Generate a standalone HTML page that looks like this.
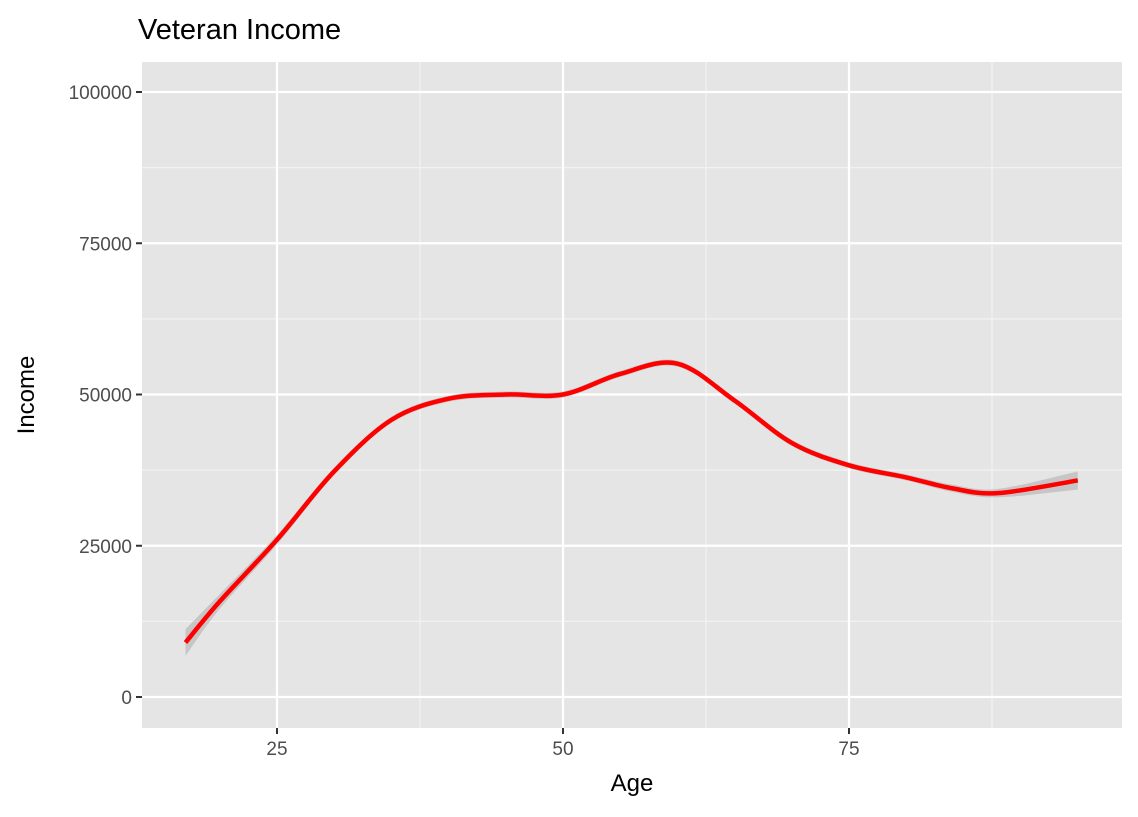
<!DOCTYPE html>
<html><head><meta charset="utf-8"><style>
body{margin:0;background:#fff}
svg{font-family:"Liberation Sans",Arial,sans-serif}
</style></head><body>
<svg id="chart" width="1138" height="812"></svg>
<script>
const ages=[17,20,25,30,35,40,45,50,55,60,65,70,75,80,84,88,95];
const incomes=[9000,15800,26000,37300,45800,49300,50000,50000,53400,55100,49000,42000,38300,36300,34500,33700,35800];
const seWidth=[2200,1200,800,600,500,500,500,500,500,500,500,500,500,500,600,700,1500];
const xTicks=[25,50,75];
const yTicks=[0,25000,50000,75000,100000];
const yTickLabels=["0","25000","50000","75000","100000"];
const L=142,R=1122,T=62,B=728;
const xScale=a=>277+(a-25)*(563-277)/25;
const yScale=v=>697-v*(697-92)/100000;
const NS="http://www.w3.org/2000/svg";
const svg=document.getElementById('chart');
function mk(tag,attrs,name,parent){const e=document.createElementNS(NS,tag);for(const k in attrs)e.setAttribute(k,attrs[k]);


(parent||svg).appendChild(e);return e;}
mk('rect',{x:L,y:T,width:R-L,height:B-T,fill:'#e5e5e5'},'plot-panel');
const xMin=[12.5,37.5,62.5,87.5];
xMin.forEach(v=>{const x=xScale(v);if(x>L&&x<R)mk('line',{x1:x,x2:x,y1:T,y2:B,stroke:'#f2f2f2','stroke-width':1.2},'minor-gridline-x');});
[12500,37500,62500,87500].forEach(v=>{const y=yScale(v);mk('line',{x1:L,x2:R,y1:y,y2:y,stroke:'#f2f2f2','stroke-width':1.2},'minor-gridline-y');});
xTicks.forEach(v=>{const x=xScale(v);mk('line',{x1:x,x2:x,y1:T,y2:B,stroke:'#fff','stroke-width':2.2},'gridline-x');
mk('line',{x1:x,x2:x,y1:B,y2:B+6,stroke:'#333','stroke-width':2},'x-tick');
const t=mk('text',{x:x,y:B+27,'text-anchor':'middle','font-size':19,fill:'#4d4d4d'},'x-tick-label');t.textContent=v;});
yTicks.forEach((v,i)=>{const y=yScale(v);mk('line',{x1:L,x2:R,y1:y,y2:y,stroke:'#fff','stroke-width':2.2},'gridline-y');
mk('line',{x1:L-6,x2:L,y1:y,y2:y,stroke:'#333','stroke-width':2},'y-tick');
const t=mk('text',{x:L-10,y:y+7,'text-anchor':'end','font-size':19,fill:'#4d4d4d'},'y-tick-label');t.textContent=yTickLabels[i];});
function smooth(pts){let d=`M${pts[0][0]},${pts[0][1]}`;for(let i=0;i<pts.length-1;i++){const p0=pts[Math.max(0,i-1)],p1=pts[i],p2=pts[i+1],p3=pts[Math.min(pts.length-1,i+2)];
d+=` C${p1[0]+(p2[0]-p0[0])/6},${p1[1]+(p2[1]-p0[1])/6} ${p2[0]-(p3[0]-p1[0])/6},${p2[1]-(p3[1]-p1[1])/6} ${p2[0]},${p2[1]}`;}return d;}
const up=ages.map((a,i)=>[xScale(a),yScale(incomes[i]+seWidth[i])]);
const lo=ages.map((a,i)=>[xScale(a),yScale(incomes[i]-seWidth[i])]).reverse();
mk('path',{d:smooth(up)+' L'+smooth(lo).slice(1)+' Z',fill:'#999','fill-opacity':0.4},'confidence-band');
mk('path',{d:smooth(ages.map((a,i)=>[xScale(a),yScale(incomes[i])])),fill:'none',stroke:'#ff0000','stroke-width':4.5},'smooth-line');
let t=mk('text',{x:138,y:39,'font-size':29,fill:'#000'},'chart-title');t.textContent='Veteran Income';
t=mk('text',{x:632,y:791,'text-anchor':'middle','font-size':24,fill:'#000'},'x-axis-title');t.textContent='Age';
t=mk('text',{x:0,y:0,'text-anchor':'middle','font-size':24,fill:'#000',transform:'translate(34,395) rotate(-90)'},'y-axis-title');t.textContent='Income';
</script>
</body></html>
